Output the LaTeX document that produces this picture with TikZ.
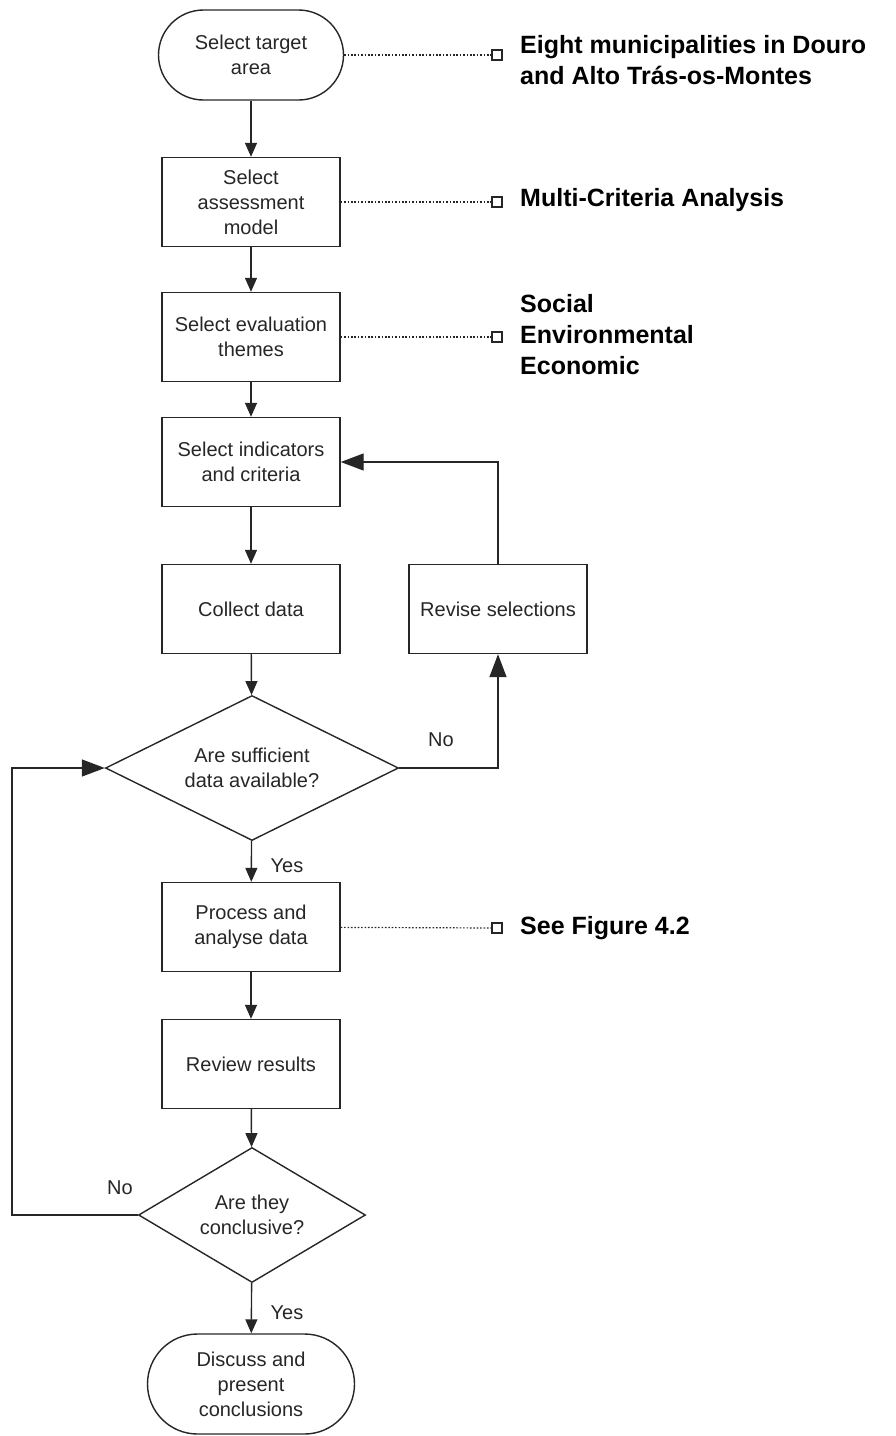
\documentclass[tikz,border=0pt]{standalone}
\usepackage{fontspec}
\setmainfont{Liberation Sans}
\usetikzlibrary{shapes.geometric,arrows.meta}
\definecolor{ink}{gray}{0.15}
\tikzset{
  stepbox/.style={draw=ink, line width=1.4pt, minimum width=178pt, minimum height=89pt, align=center, inner sep=2pt},
  terminal/.style={draw=ink, line width=1.4pt, align=center, inner sep=2pt},
  decision/.style={draw=ink, diamond, line width=1.4pt, inner sep=0pt, align=center},
  flow/.style={draw=ink, line width=1.4pt, -{Triangle[length=14pt,width=12pt]}},
  back/.style={draw=ink, line width=1.4pt, -{Triangle[length=23pt,width=17pt]}},
  note/.style={font=\bfseries\fontsize{25}{31}\selectfont, text=black, anchor=west, align=left, inner sep=0pt},
  link/.style={draw=ink, dash pattern=on 1.6pt off 1.8pt, line width=1.2pt},
  marker/.style={draw=ink, line width=1.2pt, minimum size=10pt, inner sep=0pt},
  answer/.style={inner sep=0pt}
}
\begin{document}
\begin{tikzpicture}[x=1pt, y=-1pt, node font=\fontsize{20}{25}\selectfont, text=ink]
        \useasboundingbox (0,0) rectangle (895,1436);
        % main column
        \node[terminal, minimum width=185pt, minimum height=90pt, rounded corners=45pt] (target) at (251,55) {Select target\\area};
        \node[stepbox]  (model)      at (251,202)  {Select\\assessment\\model};
        \node[stepbox]  (themes)     at (251,337)  {Select evaluation\\themes};
        \node[stepbox]  (indicators) at (251,462)  {Select indicators\\and criteria};
        \node[stepbox]  (collect)    at (251,609)  {Collect data};
        \node[stepbox]  (revise)     at (498,609)  {Revise selections};
        \node[decision, aspect=2, minimum width=293pt, minimum height=145pt] (enough) at (252,768) {Are sufficient\\data available?};
        \node[stepbox]  (process)    at (251,927)  {Process and\\analyse data};
        \node[stepbox]  (review)     at (251,1064) {Review results};
        \node[decision, aspect=1.7, minimum width=227pt, minimum height=135pt] (conclusive) at (252,1215) {Are they\\conclusive?};
        \node[terminal, minimum width=207pt, minimum height=100pt, rounded corners=50pt] (discuss) at (251,1384) {Discuss and\\present\\conclusions};
        % notes on the right
        \node[marker] (areamark)   at (497,55)  {};
        \node[marker] (modelmark)  at (497,202) {};
        \node[marker] (thememark)  at (497,337) {};
        \node[marker] (figmark)    at (497,928) {};
        \node[note] (areanote)  at (520,60)  {Eight municipalities in Douro\\and Alto Trás-os-Montes};
        \node[note] (modelnote) at (520,200) {Multi-Criteria Analysis};
        \node[note] (themenote) at (520,335) {Social\\Environmental\\Economic};
        \node[note] (fignote)   at (520,928) {See Figure 4.2};
        \draw[link] (target)  -- (areamark);
        \draw[link] (model)   -- (modelmark);
        \draw[link] (themes)  -- (thememark);
        \draw[link] (process) -- (figmark);
        % main flow
        \draw[flow] (target)     -- (model);
        \draw[flow] (model)      -- (themes);
        \draw[flow] (themes)     -- (indicators);
        \draw[flow] (indicators) -- (collect);
        \draw[flow] (collect)    -- (enough);
        \draw[flow] (enough)     -- (process);
        \draw[flow] (process)    -- (review);
        \draw[flow] (review)     -- (conclusive);
        \draw[flow] (conclusive) -- (discuss);
        % loops back
        \coordinate (leftrail) at (12,1000);
        \draw[back] (enough.east) -| (revise.south);
        \draw[back] (revise.north) |- (indicators.east);
        \draw[back] (conclusive.west) -| (leftrail) |- (enough.west);
        % answers
        \node[answer] (enoughno)      at (441,740)  {No};
        \node[answer] (enoughyes)     at (287,866)  {Yes};
        \node[answer] (conclusiveno)  at (120,1188) {No};
        \node[answer] (conclusiveyes) at (287,1313) {Yes};
      \end{tikzpicture}
\end{document}
